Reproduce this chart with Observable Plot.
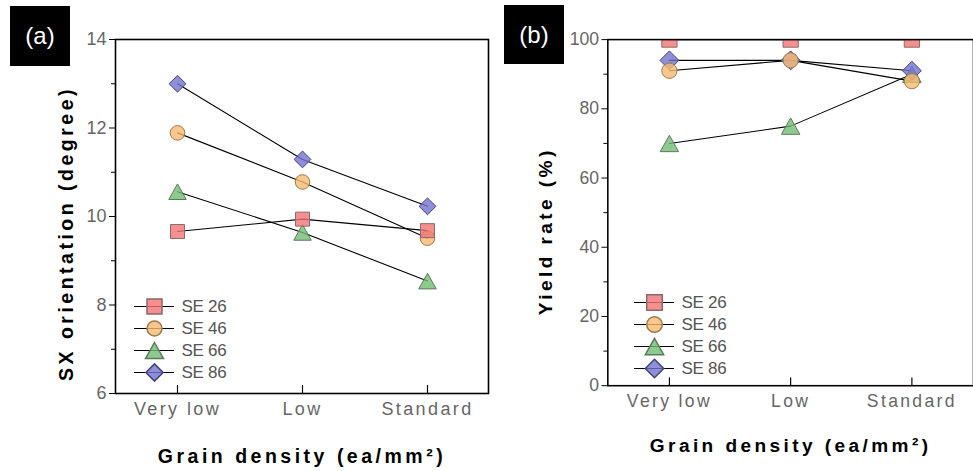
<!DOCTYPE html>
<html>
<head>
<meta charset="utf-8">
<script src="https://cdn.jsdelivr.net/npm/d3@7"></script>
<script src="https://cdn.jsdelivr.net/npm/@observablehq/plot@0.6"></script>
<style>
  html, body { margin: 0; padding: 0; background: #fff; overflow: hidden; }
  #root { position: relative; width: 973px; height: 471px; overflow: hidden; font-family: 'Liberation Sans', Arial, sans-serif; }
  .panel { position: absolute; top: 0; }
  .tag { position: absolute; background: #000; color: #fff; font-size: 24px; display: flex; align-items: center; justify-content: center; font-family: 'Liberation Sans', Arial, sans-serif; }
  g[aria-label="x-axis tick label"] text { letter-spacing: 2.4px; }
</style>
</head>
<body>
<div id="root"></div>
<script>
// ---------- data ----------
const categories = ["Very low", "Low", "Standard"];
const seriesNames = ["SE 26", "SE 46", "SE 66", "SE 86"];

// (a) SX orientation (degree)
const sxSE26 = [9.66, 9.94, 9.68];
const sxSE46 = [11.89, 10.78, 9.51];
const sxSE66 = [10.56, 9.64, 8.54];
const sxSE86 = [13.0, 11.29, 10.23];
const sxTicks = [6, 8, 10, 12, 14];
const sxMinorTicks = [7, 9, 11, 13];

// (b) Yield rate (%)
const ySE26 = [100, 100, 100];
const ySE46 = [91, 94, 88];
const ySE66 = [70, 75, 90];
const ySE86 = [94, 94, 91];
const yieldTicks = [0, 20, 40, 60, 80, 100];
const yieldMinorTicks = [10, 30, 50, 70, 90];

const xTitle = "Grain density (ea/mm²)";
const yTitleA = "SX orientation (degree)";
const yTitleB = "Yield rate (%)";

// ---------- styling ----------
const fills = ["#f47373", "#f9b970", "#72bb72", "#7272cf"];
const strokes = ["#8a6a6a", "#9a7a50", "#5a7a5a", "#44447a"];

const symSquare = { draw(ctx, size) { const r = Math.sqrt(size / Math.PI); ctx.rect(-r, -r, 2 * r, 2 * r); } };
const symCircle = { draw(ctx, size) { const r = Math.sqrt(size / Math.PI); ctx.moveTo(r, 0); ctx.arc(0, 0, r, 0, 2 * Math.PI); } };
const symTriangle = { draw(ctx, size) { const r = Math.sqrt(size / Math.PI); ctx.moveTo(0, -r); ctx.lineTo(1.12 * r, r); ctx.lineTo(-1.12 * r, r); ctx.closePath(); } };
const symDiamond = { draw(ctx, size) { const r = Math.sqrt(size / Math.PI) * 1.15; ctx.moveTo(0, -r); ctx.lineTo(r, 0); ctx.lineTo(0, r); ctx.lineTo(-r, 0); ctx.closePath(); } };
const symbols = [symSquare, symCircle, symTriangle, symDiamond];
const sizesA = [7, 7.3, 7.8, 7.3];
const sizesB = [7.8, 7.8, 8.4, 8.4];

function table(valuesList) {
  const rows = [];
  valuesList.forEach((vals, si) => {
    vals.forEach((v, ci) => rows.push({ series: seriesNames[si], si, cat: categories[ci], value: v }));
  });
  return rows;
}

const fontFamily = "'Liberation Sans', Arial, sans-serif";

function panel({ data, yDomain, ticks, minorTicks, width, marginLeft, marginTop, marginRight, marginBottom, padding, yTitle, yTitleDx, yTitleDy, xTitleDy, sizes, clip, frameHeight }) {
  return Plot.plot({
    width, height: 471, marginLeft, marginTop, marginRight, marginBottom,
    style: { fontFamily, background: "transparent", overflow: "visible" },
    x: { type: "point", domain: categories, padding, label: null },
    y: { domain: yDomain, label: null },
    color: { domain: seriesNames, range: fills },
    symbol: { domain: seriesNames, range: symbols },
    r: { type: "identity" },
    marks: [
      Plot.axisY(ticks, { tickSize: 6, tickPadding: 3, fill: "#666", stroke: "#000", fontSize: 18 }),
      Plot.axisY(minorTicks, { tickSize: 4, text: null, stroke: "#000" }),
      Plot.axisX({ tickSize: 0, tickPadding: 9, fill: "#666", fontSize: 18 }),
      Plot.tickX(categories, { x: d => d, stroke: "#000", strokeWidth: 1.2, insetTop: frameHeight - 8 }),
      Plot.line(data, { x: "cat", y: "value", z: "series", stroke: "#000", strokeWidth: 1.1, clip }),
      Plot.dot(data, { x: "cat", y: "value", symbol: "series", fill: "series", fillOpacity: 0.8, stroke: d => strokes[d.si], strokeWidth: 1, r: d => sizes[d.si], clip }),
      Plot.frame({ stroke: "#000", strokeWidth: 1.6 }),
      Plot.text([yTitle], { frameAnchor: "left", rotate: -90, textAnchor: "middle", lineAnchor: "bottom", dx: yTitleDx, dy: yTitleDy, fontSize: 19.5, fontWeight: "bold", fill: "#000" }),
      Plot.text([xTitle], { frameAnchor: "bottom", textAnchor: "middle", lineAnchor: "bottom", dy: xTitleDy, fontSize: 19.5, fontWeight: "bold", fill: "#000" })
    ]
  });
}

function legend({ range, sizes }) {
  return Plot.plot({
    width: 120, height: 100, margin: 0,
    style: { fontFamily, background: "transparent", overflow: "visible" },
    x: { domain: [0, 1], range: [9, 49], axis: null },
    y: { type: "point", domain: seriesNames, range, padding: 0, axis: null },
    color: { domain: seriesNames, range: fills },
    symbol: { domain: seriesNames, range: symbols },
    r: { type: "identity" },
    marks: [
      Plot.ruleY(seriesNames, { y: d => d, x1: 0, x2: 1, stroke: "#000", strokeWidth: 1.2 }),
      Plot.dot(seriesNames, { x: () => 0.5, y: d => d, symbol: d => d, fill: d => d, fillOpacity: 0.8, stroke: (d, i) => strokes[i], r: (d, i) => sizes[i] }),
      Plot.text(seriesNames, { x: () => 1, y: d => d, text: d => d, dx: 7, textAnchor: "start", fontSize: 17, fill: "#555" })
    ]
  });
}

const root = document.getElementById("root");

function place(el, left, top) {
  const wrap = document.createElement("div");
  wrap.className = "panel";
  wrap.style.left = left + "px";
  wrap.style.top = top + "px";
  wrap.appendChild(el);
  root.appendChild(wrap);
}

const plotA = panel({
  data: table([sxSE26, sxSE46, sxSE66, sxSE86]),
  yDomain: [6, 14], ticks: sxTicks, minorTicks: sxMinorTicks,
  width: 490, marginLeft: 115, marginTop: 39, marginRight: 2, marginBottom: 78, padding: 0.49,
  yTitle: yTitleA, yTitleDx: -43, yTitleDy: 17, xTitleDy: 69, sizes: sizesA, clip: false, frameHeight: 354
});
place(plotA, 0, 0);

const plotB = panel({
  data: table([ySE26, ySE46, ySE66, ySE86]),
  yDomain: [0, 100], ticks: yieldTicks, minorTicks: yieldMinorTicks,
  width: 494, marginLeft: 120, marginTop: 40, marginRight: 0, marginBottom: 77, padding: 0.5,
  yTitle: yTitleB, yTitleDx: -57, yTitleDy: 19, xTitleDy: 68, sizes: sizesB, clip: "frame", frameHeight: 354
});
place(plotB, 490, 0);

place(legend({ range: [15, 82], sizes: [7.5, 7.5, 8, 7.5] }), 125, 290);
place(legend({ range: [16, 84], sizes: [7.8, 7.8, 8.2, 8] }), 625, 285);

// letter spacing for titles and legend labels
const titles = new Set([xTitle, yTitleA, yTitleB]);
const legendSet = new Set(seriesNames);
d3.select(root).selectAll("text").each(function () {
  const t = this.textContent;
  if (titles.has(t)) this.style.letterSpacing = "3.5px";
  else if (legendSet.has(t)) this.style.letterSpacing = "-0.3px";
});

function tag(text, left, top, w, h) {
  const d = document.createElement("div");
  d.className = "tag";
  d.style.left = left + "px"; d.style.top = top + "px";
  d.style.width = w + "px"; d.style.height = h + "px";
  d.textContent = text;
  root.appendChild(d);
}
tag("(a)", 10, 6, 60, 60);
tag("(b)", 504, 5, 60, 59);
</script>
</body>
</html>
